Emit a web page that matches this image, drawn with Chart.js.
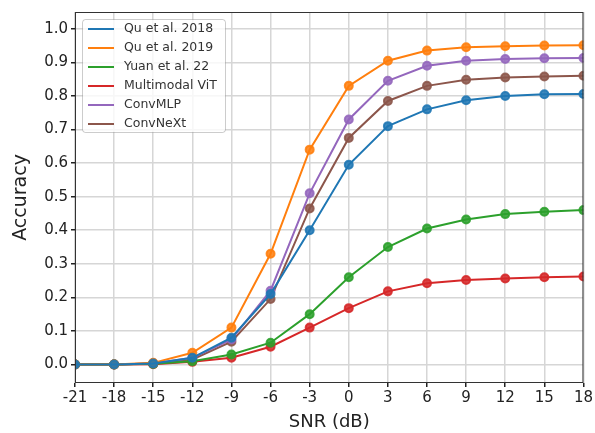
<!DOCTYPE html>
<html>
<head>
<meta charset="utf-8">
<script src="https://cdn.jsdelivr.net/npm/chart.js@4/dist/chart.umd.min.js"></script>
<style>
  html, body { margin: 0; padding: 0; background: #fff; }
  #wrap { width: 595px; height: 433px; }
</style>
</head>
<body>
<div id="wrap"><canvas id="accChart" width="595" height="433"></canvas></div>
<script>
const snr = [-21, -18, -15, -12, -9, -6, -3, 0, 3, 6, 9, 12, 15, 18];
const yTicks = [0, 0.1, 0.2, 0.3, 0.4, 0.5, 0.6, 0.7, 0.8, 0.9, 1.0];

const qu2018 = [0, 0, 0.003, 0.02, 0.08, 0.21, 0.40, 0.595, 0.71, 0.76, 0.787, 0.80, 0.805, 0.806];
const qu2019 = [0, 0, 0.005, 0.035, 0.11, 0.33, 0.64, 0.83, 0.905, 0.935, 0.945, 0.948, 0.95, 0.951];
const yuan22 = [0, 0, 0.002, 0.01, 0.03, 0.065, 0.15, 0.26, 0.35, 0.405, 0.432, 0.448, 0.455, 0.46];
const mmVit = [0, 0, 0.001, 0.008, 0.02, 0.053, 0.11, 0.168, 0.218, 0.242, 0.252, 0.256, 0.26, 0.262];
const convMlp = [0, 0, 0.003, 0.02, 0.075, 0.22, 0.51, 0.73, 0.845, 0.89, 0.905, 0.91, 0.912, 0.913];
const convNext = [0, 0, 0.003, 0.015, 0.068, 0.195, 0.465, 0.675, 0.785, 0.83, 0.848, 0.855, 0.858, 0.86];

const seriesNames = ['Qu et al. 2018', 'Qu et al. 2019', 'Yuan et al. 22', 'Multimodal ViT', 'ConvMLP', 'ConvNeXt'];
const seriesData = [qu2018, qu2019, yuan22, mmVit, convMlp, convNext];
const colors = ['#1f77b4', '#ff7f0e', '#2ca02c', '#d62728', '#9467bd', '#8c564b'];

const font = 'DejaVu Sans';
const tickColor = '#222';
const gridColor = '#d6d6d6';

const datasets = seriesData.map((vals, i) => ({
  label: seriesNames[i],
  data: vals.map((v, j) => ({ x: snr[j], y: v })),
  borderColor: colors[i],
  backgroundColor: colors[i] + 'dd',
  pointBorderColor: colors[i] + 'dd',
  borderWidth: 2,
  pointRadius: 4,
  pointHoverRadius: 4,
  tension: 0
}));

// matplotlib style frame + inset legend
const framePlugin = {
  id: 'frame',
  afterDatasetsDraw(chart) {
    const { ctx, chartArea: a } = chart;
    ctx.save();
    ctx.strokeStyle = '#333';
    ctx.lineWidth = 1;
    ctx.strokeRect(a.left + 0.5, a.top + 0.5, a.right - a.left - 1, a.bottom - a.top - 1);

    // legend
    const x0 = a.left + 7, y0 = a.top + 7;
    const w = 143, rowH = 19, h = 113;
    ctx.fillStyle = 'rgba(255,255,255,0.8)';
    ctx.strokeStyle = 'rgba(0,0,0,0.2)';
    ctx.beginPath();
    ctx.roundRect(x0 + 0.5, y0 + 0.5, w, h, 3);
    ctx.fill();
    ctx.stroke();
    ctx.font = '12.5px ' + font;
    ctx.textBaseline = 'middle';
    seriesNames.forEach((name, i) => {
      const y = y0 + 10 + i * rowH;
      ctx.strokeStyle = colors[i];
      ctx.lineWidth = 2;
      ctx.beginPath();
      ctx.moveTo(x0 + 6, y);
      ctx.lineTo(x0 + 32, y);
      ctx.stroke();
      ctx.fillStyle = '#333';
      ctx.fillText(name, x0 + 42, y);
    });
    ctx.restore();
  }
};

new Chart(document.getElementById('accChart'), {
  type: 'line',
  data: { datasets },
  options: {
    responsive: false,
    animation: false,
    layout: { padding: { top: 4, right: 10, left: 0, bottom: 0 } },
    plugins: { legend: { display: false }, tooltip: { enabled: false } },
    scales: {
      x: {
        type: 'linear',
        min: -21,
        max: 18,
        afterBuildTicks: s => { s.ticks = snr.map(v => ({ value: v })); },
        afterFit: s => { s.height = 50; },
        grid: { color: gridColor, tickColor: tickColor, tickLength: 4, lineWidth: 1.5 },
        border: { display: false },
        ticks: { color: tickColor, font: { family: font, size: 15 }, padding: 2, maxRotation: 0 },
        title: { display: true, text: 'SNR (dB)', color: '#222', font: { family: font, size: 18 }, padding: { top: 0, bottom: 0 } }
      },
      y: {
        min: -0.055,
        max: 1.05,
        afterBuildTicks: s => { s.ticks = yTicks.map(v => ({ value: v })); },
        afterFit: s => { s.width = 75; },
        grid: { color: gridColor, tickColor: tickColor, tickLength: 4, lineWidth: 1.5 },
        border: { display: false },
        ticks: { color: tickColor, font: { family: font, size: 15 }, padding: 3, callback: v => v.toFixed(1) },
        title: { display: true, text: 'Accuracy', color: '#222', font: { family: font, size: 19 }, padding: { top: 10, bottom: 0 } }
      }
    }
  },
  plugins: [framePlugin]
});
</script>
</body>
</html>
